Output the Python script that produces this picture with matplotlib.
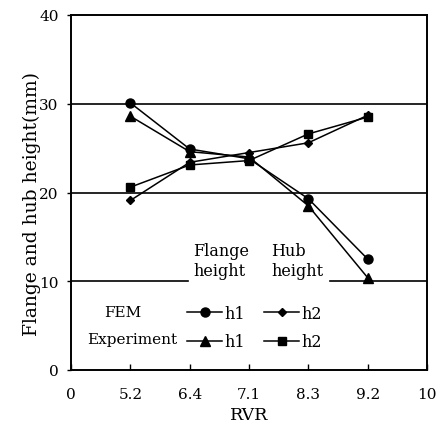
import matplotlib
matplotlib.use("Agg")
import matplotlib.pyplot as plt
import numpy as np

plt.rcParams['font.family'] = ['DejaVu Serif']

tick_labels = ["0", "5.2", "6.4", "7.1", "8.3", "9.2", "10"]
rvr = ["5.2", "6.4", "7.1", "8.3", "9.2"]
h1_fem = [30.1, 24.9, 23.8, 19.3, 12.5]
h1_exp = [28.6, 24.6, 24.0, 18.5, 10.4]
h2_fem = [19.1, 23.4, 24.5, 25.6, 28.7]
h2_exp = [20.6, 23.1, 23.6, 26.6, 28.5]

fig = plt.figure(figsize=(4.36, 4.27), dpi=100)
ax = fig.add_axes([71/436, 1-371/427, 356/436, 355/427])

x = np.array([tick_labels.index(r) for r in rvr])
lw = 1.1
l1, = ax.plot(x, h1_fem, color='black', marker='o', ms=6.5, lw=lw, label='h1', zorder=4)
l3, = ax.plot(x, h1_exp, color='black', marker='^', ms=7, lw=lw, label='h1', zorder=4)
l2, = ax.plot(x, h2_fem, color='black', marker='D', ms=4.5, lw=lw, label='h2', zorder=4)
l4, = ax.plot(x, h2_exp, color='black', marker='s', ms=6, lw=lw, label='h2', zorder=4)

ax.axhline(30, color='black', lw=1.2, zorder=1)
ax.axhline(20, color='black', lw=1.2, zorder=1)
ax.axhline(10, xmin=0, xmax=(188-71)/356, color='black', lw=1.2, zorder=1)
ax.axhline(10, xmin=(330-71)/356, xmax=1, color='black', lw=1.2, zorder=1)

ax.set_xlim(0, len(tick_labels) - 1)
ax.set_ylim(0, 40)
ax.set_xticks(range(len(tick_labels)))
ax.set_xticklabels(tick_labels)
ax.set_yticks([0, 10, 20, 30, 40])
ax.tick_params(axis='x', direction='in', length=4, width=1, labelsize=11, pad=12)
ax.tick_params(axis='y', direction='out', length=3, width=1, labelsize=11, pad=6)
for s in ax.spines.values():
    s.set_linewidth(1.4)

ax.set_xlabel("RVR", fontsize=12.5, labelpad=4)
ax.set_ylabel("Flange and hub height(mm)", fontsize=13.5)
ax.yaxis.set_label_coords(-0.085, 0.47)

ax.text(2.056, 12.3, "Flange\nheight", fontsize=11.5, ha='left', va='center',
        linespacing=1.25, zorder=3)
ax.text(3.37, 12.3, "Hub\nheight", fontsize=11.5, ha='left', va='center',
        linespacing=1.25, zorder=3)
ax.text(0.876, 6.54, "FEM", fontsize=11, ha='center', va='center')
ax.text(0.27, 3.49, "Experiment", fontsize=11, ha='left', va='center')

leg = ax.legend([l1, l3, l2, l4], ['h1', 'h1', 'h2', 'h2'], ncol=2,
                loc='upper left', bbox_to_anchor=((187-71)/356, (371-306)/355),
                frameon=False, fontsize=11.5, handlelength=2.2, handletextpad=0.15,
                columnspacing=1.2, labelspacing=0.72, borderpad=0, borderaxespad=0)

fig.savefig("out.png", dpi=100)
